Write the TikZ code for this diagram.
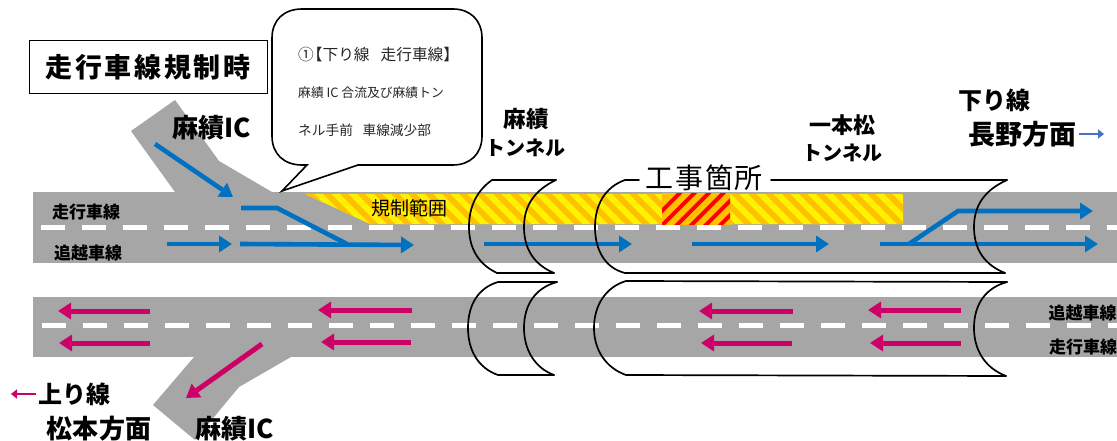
\documentclass[tikz,border=0pt]{standalone}
\usepackage{fontspec}
\usetikzlibrary{arrows.meta}
\setmainfont{Noto Sans CJK JP}
\newcommand{\fz}[1]{\fontsize{#1}{#1}\selectfont}
\definecolor{roadgray}{HTML}{A6A6A6}
\definecolor{bluearr}{HTML}{0070C0}
\definecolor{magarr}{HTML}{CC0066}
\definecolor{smallblue}{HTML}{4472C4}
\definecolor{hatchor}{HTML}{FFC000}
\tikzset{
  road/.style={fill=roadgray,draw=none},
  dashbar/.style={fill=white,draw=none},
  bluearrow/.style={draw=bluearr,line width=4.6pt,-{Triangle[length=13pt,width=16pt]}},
  blueline/.style={draw=bluearr,line width=4.6pt,line join=miter},
  magarrow/.style={draw=magarr,line width=5pt,-{Triangle[length=13pt,width=16pt]}},
  tunnel/.style={draw=black,line width=1.7pt,line cap=round},
  lbl/.style={inner sep=0pt,text=black,font=\bfseries},
  thinlbl/.style={inner sep=0pt,text=black!85},
}
\begin{document}
\begin{tikzpicture}[x=1pt,y=-1pt]
\useasboundingbox (0,0) rectangle (1117,441);
% roads and ramps
\fill[road] (33,192) rectangle (1117,263);
\fill[road] (33,297) rectangle (1117,357);
\fill[road] (131,131) -- (175,100) -- (219,161) -- (272,192) -- (175,192) -- cycle;
\fill[road] (194,357) -- (153,405) -- (195,440) -- (239,387) -- (291,357) -- cycle;
% regulated range
\begin{scope}
  \clip (305,194) -- (903,194) -- (903,224) -- (370,224) -- cycle;
  \fill[yellow] (300,190) rectangle (910,230);
  \foreach \i in {0,...,40} {
    \fill[hatchor] ({285+17*\i},190) -- ({293+17*\i},190) -- ({333+17*\i},230) -- ({325+17*\i},230) -- cycle;
  }
\end{scope}
\begin{scope}
  \clip (662,194) rectangle (730,224);
  \fill[hatchor] (660,190) rectangle (735,230);
  \foreach \i in {0,...,9} {
    \fill[red] ({640+14.5*\i},230) -- ({645.5+14.5*\i},230) -- ({685.5+14.5*\i},190) -- ({680+14.5*\i},190) -- cycle;
  }
\end{scope}
% dashes
\foreach \i in {0,...,26} {
  \fill[dashbar] ({41+41*\i},224.5) rectangle ++(23.5,5.5);
  \fill[dashbar] ({42+41*\i},322.5) rectangle ++(23.5,5.5);
}
% blue arrows
\coordinate (ba1) at (155,144); \coordinate (ba2) at (233,197);
\draw[bluearrow] (ba1) -- (ba2);
\coordinate (bb1) at (241,208); \coordinate (bb2) at (277,208); \coordinate (bb3) at (347,244);
\draw[blueline] (bb1) -- (bb2) -- (bb3);
\coordinate (bc1) at (167,244); \coordinate (bc2) at (232,244);
\draw[bluearrow] (bc1) -- (bc2);
\coordinate (bd1) at (240,244); \coordinate (bd2) at (414,245);
\draw[bluearrow] (bd1) -- (bd2);
\coordinate (be1) at (484,244); \coordinate (be2) at (632,244);
\draw[bluearrow] (be1) -- (be2);
\coordinate (bf1) at (692,244); \coordinate (bf2) at (829,244);
\draw[bluearrow] (bf1) -- (bf2);
\coordinate (bg1) at (880,244); \coordinate (bg2) at (1098,244);
\draw[bluearrow] (bg1) -- (bg2);
\coordinate (bh1) at (909,244); \coordinate (bh2) at (958,211); \coordinate (bh3) at (1093,211);
\draw[bluearrow] (bh1) -- (bh2) -- (bh3);
% magenta arrows
\coordinate (ma1) at (150,311); \coordinate (ma2) at (58,311);
\draw[magarrow] (ma1) -- (ma2);
\coordinate (mb1) at (150,343); \coordinate (mb2) at (59,343);
\draw[magarrow] (mb1) -- (mb2);
\coordinate (mc1) at (412,310); \coordinate (mc2) at (318,310);
\draw[magarrow] (mc1) -- (mc2);
\coordinate (md1) at (411,342); \coordinate (md2) at (321,342);
\draw[magarrow] (md1) -- (md2);
\coordinate (me1) at (262,344); \coordinate (me2) at (186,398);
\draw[magarrow] (me1) -- (me2);
\coordinate (mf1) at (793,311); \coordinate (mf2) at (699,311);
\draw[magarrow] (mf1) -- (mf2);
\coordinate (mg1) at (792,343); \coordinate (mg2) at (701,343);
\draw[magarrow] (mg1) -- (mg2);
\coordinate (mh1) at (961,310); \coordinate (mh2) at (868,310);
\draw[magarrow] (mh1) -- (mh2);
\coordinate (mi1) at (961,343); \coordinate (mi2) at (870,343);
\draw[magarrow] (mi1) -- (mi2);
% direction arrows
\coordinate (da1) at (1079,134); \coordinate (da2) at (1104,134);
\draw[draw=smallblue,line width=2.5pt,-{Triangle[length=6pt,width=9pt]}] (da1) -- (da2);
\coordinate (db1) at (36,394); \coordinate (db2) at (11,394);
\draw[draw=magarr,line width=2.5pt,-{Triangle[length=6pt,width=9pt]}] (db1) -- (db2);
% upper tunnels
\draw[tunnel] (492,180) .. controls (478,190) and (469,205) .. (469,227) .. controls (469,250) and (480,265) .. (497,273) -- (554,273);
\draw[tunnel] (492,180) -- (556,180);
\draw[tunnel] (556,180) .. controls (535,190) and (524,205) .. (524,227) .. controls (524,250) and (535,265) .. (554,273);
\draw[tunnel] (639,180) -- (625,180) .. controls (605,187) and (595,205) .. (595,227) .. controls (595,250) and (605,268) .. (625,273) -- (1005,273);
\draw[tunnel] (771,180) -- (1007,180);
\draw[tunnel] (1007,180) .. controls (985,190) and (974,205) .. (974,227) .. controls (974,250) and (985,265) .. (1005,273);
% lower tunnels
\draw[tunnel] (557,282) -- (498,282) .. controls (478,288) and (468,305) .. (468,328) .. controls (468,350) and (478,368) .. (498,375) -- (554,375);
\draw[tunnel] (557,282) .. controls (535,288) and (524,305) .. (524,328) .. controls (524,350) and (535,368) .. (554,375);
\draw[tunnel] (1007,282) -- (626,281) .. controls (606,287) and (594,305) .. (594,328) .. controls (594,350) and (606,368) .. (626,375) -- (1006,376);
\draw[tunnel] (1007,282) .. controls (985,288) and (974,305) .. (974,328) .. controls (974,350) and (985,368) .. (1006,376);
% title box
\node[draw=black,line width=1pt,fill=white,minimum width=238pt,minimum height=53pt,inner sep=0pt,anchor=center,font=\fz{27}\bfseries\addfontfeature{LetterSpace=10}] (title) at (148,67.5) {走行車線規制時};
% callout
\draw[draw=black,line width=1.6pt,fill=white,line join=miter]
  (302,9) -- (453,9) .. controls (470,9) and (482,20) .. (482,38)
  -- (482,136) .. controls (482,154) and (470,165) .. (453,165)
  -- (358,165) -- (282,191) -- (307,165) -- (302,165)
  .. controls (284,165) and (272,154) .. (272,136)
  -- (272,38) .. controls (272,20) and (284,9) .. (302,9) -- cycle;
\node[thinlbl,anchor=west,font=\fz{15.7}] (c1) at (298,55) {①\hspace{-0.45em}【下り線\hspace{0.7em}走行車線】};
\node[thinlbl,anchor=west,font=\fz{12.8}] (c2) at (298,93) {麻績 IC 合流及び麻績トン};
\node[thinlbl,anchor=west,font=\fz{13.7}] (c3) at (298,130) {ネル手前\hspace{0.7em}車線減少部};
% labels
\node[lbl,font=\fz{17}\bfseries] (l1) at (86,212) {走行車線};
\node[lbl,font=\fz{17}\bfseries] (l2) at (88,253) {追越車線};
\node[lbl,font=\fz{17}\bfseries] (l3) at (1082.5,313) {追越車線};
\node[lbl,font=\fz{17}\bfseries] (l4) at (1083,347) {走行車線};
\node[lbl,font=\fz{26}\bfseries] (l5) at (211.5,128) {麻績IC};
\node[lbl,font=\fz{26}\bfseries] (l6) at (235,429) {麻績IC};
\node[lbl,font=\fz{22.5}\bfseries] (l7) at (526,119) {麻績};
\node[lbl,font=\fz{20}\bfseries] (l8) at (525.5,148) {トンネル};
\node[lbl,font=\fz{22}\bfseries] (l9) at (842,125) {一本松};
\node[lbl,font=\fz{20}\bfseries] (l10) at (842.5,153) {トンネル};
\node[inner sep=0pt,font=\fz{28}\addfontfeature{LetterSpace=6}] (l11) at (704.5,178) {工事箇所};
\node[lbl,font=\fz{24}\bfseries] (l12) at (994,100) {下り線};
\node[lbl,font=\fz{27}\bfseries] (l13) at (1022,134) {長野方面};
\node[lbl,font=\fz{24}\bfseries] (l14) at (74,394) {上り線};
\node[lbl,font=\fz{26}\bfseries\addfontfeature{LetterSpace=2}] (l15) at (99,429) {松本方面};
\node[inner sep=0pt,font=\fz{19}] (l16) at (409,208) {規制範囲};
\end{tikzpicture}
\end{document}
